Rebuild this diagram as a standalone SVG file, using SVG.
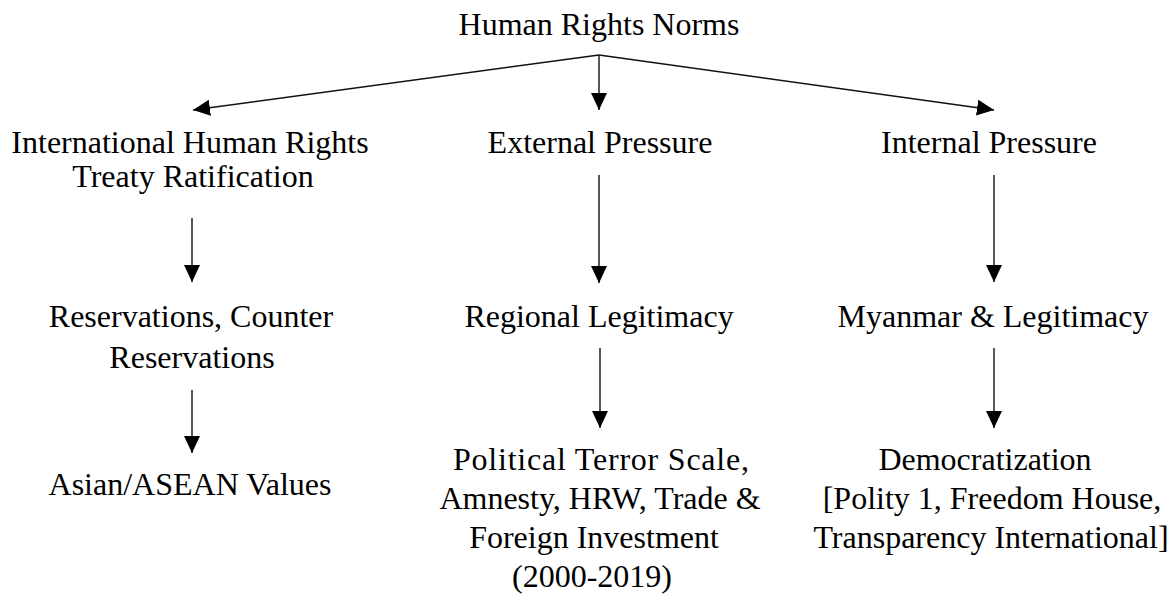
<svg xmlns="http://www.w3.org/2000/svg" width="1170" height="604" viewBox="0 0 1170 604">
<style>
text{font-family:"Liberation Serif","Times New Roman",serif;font-size:32px;fill:#000;text-anchor:middle}
.c{stroke:#111;stroke-width:1.4;fill:none;marker-end:url(#ah)}
</style>
<defs>
<marker id="ah" markerUnits="userSpaceOnUse" markerWidth="17" markerHeight="16" refX="17" refY="8" orient="auto">
<path d="M0,0 L17,8 L0,16 Z" fill="#000"/>
</marker>
</defs>
<rect width="1170" height="604" fill="#fff"/>
<g id="connectors">
<line class="c" x1="599" y1="55" x2="193" y2="110"/>
<line class="c" x1="599" y1="55" x2="599" y2="110"/>
<line class="c" x1="599" y1="55" x2="994" y2="110"/>
<line class="c" x1="192" y1="218" x2="192" y2="282"/>
<line class="c" x1="192" y1="390" x2="192" y2="453"/>
<line class="c" x1="599" y1="175" x2="599" y2="283"/>
<line class="c" x1="600" y1="348" x2="600" y2="428"/>
<line class="c" x1="994" y1="175" x2="994" y2="282"/>
<line class="c" x1="994" y1="348" x2="994" y2="428"/>
</g>
<g id="root"><text x="599" y="35">Human Rights Norms</text></g>
<g id="treaty"><text x="190" y="153">International Human Rights</text><text x="193" y="187">Treaty Ratification</text></g>
<g id="external"><text x="600" y="153">External Pressure</text></g>
<g id="internal"><text x="989" y="153">Internal Pressure</text></g>
<g id="reservations"><text x="191" y="327">Reservations, Counter</text><text x="192" y="368">Reservations</text></g>
<g id="regional"><text x="599" y="327">Regional Legitimacy</text></g>
<g id="myanmar"><text x="993" y="327">Myanmar &amp; Legitimacy</text></g>
<g id="asian"><text x="190" y="495">Asian/ASEAN Values</text></g>
<g id="political"><text x="601" y="470" textLength="296" lengthAdjust="spacing">Political Terror Scale,</text><text x="600" y="509">Amnesty, HRW, Trade &amp;</text><text x="594" y="548">Foreign Investment</text><text x="592" y="587">(2000-2019)</text></g>
<g id="democratization"><text x="985" y="470">Democratization</text><text x="992" y="509">[Polity 1, Freedom House,</text><text x="991" y="548">Transparency International]</text></g>
</svg>
